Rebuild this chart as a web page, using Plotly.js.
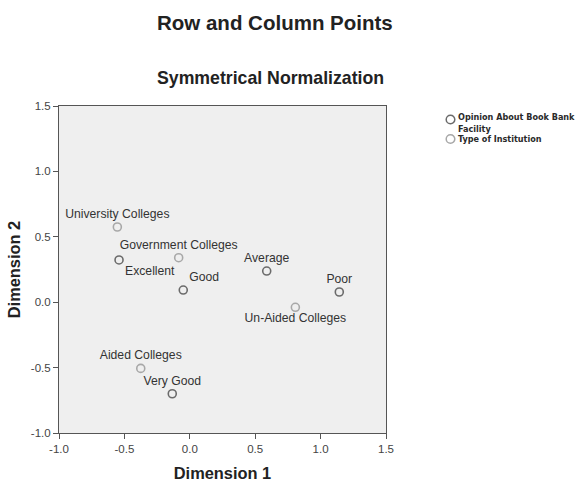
<!DOCTYPE html>
<html><head><meta charset="utf-8">
<script src="https://cdn.plot.ly/plotly-3.0.1.min.js"></script>
<style>body{margin:0;background:#fff}#chart{width:579px;height:482px}</style>
</head><body><div id="chart"></div>
<script>
const opinionLabels = ["Excellent","Very Good","Good","Average","Poor"];
const opinionDim1 = [-0.541, -0.134, -0.050, 0.588, 1.143];
const opinionDim2 = [0.323, -0.700, 0.093, 0.238, 0.078];
const opinionPos = ["bottom right","top center","top right","top center","top center"];

const typeLabels = ["University Colleges","Government Colleges","Aided Colleges","Un-Aided Colleges"];
const typeDim1 = [-0.554, -0.085, -0.375, 0.807];
const typeDim2 = [0.575, 0.340, -0.506, -0.039];
const typePos = ["top center","top center","top center","bottom center"];

const tickVals = [-1.0,-0.5,0.0,0.5,1.0,1.5];
const tickText = ["-1.0","-0.5","0.0","0.5","1.0","1.5"];

const legendNames = ["Opinion About Book Bank<br>Facility", "Type of Institution"];
const colOpinion = "#6b6b6b", colType = "#a8a8a8";

const font = "Liberation Sans, Arial, sans-serif";
const W = 579, H = 482, ML = 59, MR = 193, MT = 106, MB = 49;
const PW = W - ML - MR, PH = H - MT - MB;
const px = v => (v - ML) / PW;   // pixel x -> paper
const py = v => 1 - (v - MT) / PH; // pixel y -> paper

const data = [
  {x: opinionDim1, y: opinionDim2, text: opinionLabels, textposition: opinionPos,
   mode: "markers+text", type: "scatter", name: "Opinion About Book Bank Facility",
   marker: {symbol: "circle-open", size: 8, color: colOpinion, line: {width: 1.6, color: colOpinion}},
   textfont: {family: font, size: 12.2, color: "#333"}, cliponaxis: false, showlegend: false},
  {x: typeDim1, y: typeDim2, text: typeLabels, textposition: typePos,
   mode: "markers+text", type: "scatter", name: "Type of Institution",
   marker: {symbol: "circle-open", size: 8, color: colType, line: {width: 1.6, color: colType}},
   textfont: {family: font, size: 12.2, color: "#333"}, cliponaxis: false, showlegend: false}
];

const legFont = {family: "DejaVu Sans Condensed, DejaVu Sans", size: 9, color: "#2a2a2a", weight: "bold"};
const annotations = [
  {text: "<b>Row and Column Points</b>", xref: "paper", yref: "paper", x: px(275), y: py(22),
   showarrow: false, font: {family: font, size: 20.5, color: "#222"}, xanchor: "center", yanchor: "middle"},
  {text: "<b>Symmetrical Normalization</b>", xref: "paper", yref: "paper", x: px(270.5), y: py(78),
   showarrow: false, font: {family: font, size: 17.7, color: "#222"}, xanchor: "center", yanchor: "middle"},
  {text: legendNames[0], xref: "paper", yref: "paper", x: px(457), y: py(111), showarrow: false,
   xanchor: "left", yanchor: "top", align: "left", font: legFont, borderpad: 0},
  {text: legendNames[1], xref: "paper", yref: "paper", x: px(457), y: py(139), showarrow: false,
   xanchor: "left", yanchor: "middle", align: "left", font: legFont, borderpad: 0}
];
const legendCircle = (cy, col) => ({type: "circle", xref: "paper", yref: "paper", xsizemode: "pixel", ysizemode: "pixel",
  xanchor: px(450.5), yanchor: py(cy), x0: -4.3, x1: 4.3, y0: -4.3, y1: 4.3, line: {color: col, width: 1.5}});

const layout = {
  width: W, height: H,
  margin: {l: ML, r: MR, t: MT, b: MB, autoexpand: false},
  paper_bgcolor: "#fff", plot_bgcolor: "#efefef",
  font: {family: font, color: "#333"},
  showlegend: false,
  xaxis: {range: [-1, 1.5], tickvals: tickVals, ticktext: tickText, showgrid: false, zeroline: false,
    showline: true, linecolor: "#555", linewidth: 1, mirror: true, ticks: "outside", ticklen: 5, tickcolor: "#555",
    tickfont: {family: font, size: 11.5, color: "#444"},
    title: {text: "<b>Dimension 1</b>", font: {family: font, size: 16.4, color: "#222"}, standoff: 14}},
  yaxis: {range: [-1, 1.5], tickvals: tickVals, ticktext: tickText, showgrid: false, zeroline: false,
    showline: true, linecolor: "#555", linewidth: 1, mirror: true, ticks: "outside", ticklen: 5, tickcolor: "#555",
    tickfont: {family: font, size: 11.5, color: "#444"},
    title: {text: "<b>Dimension 2</b>", font: {family: font, size: 16.4, color: "#222"}, standoff: 6}},
  annotations: annotations,
  shapes: [legendCircle(119.5, colOpinion), legendCircle(139, colType)]
};
Plotly.newPlot("chart", data, layout, {displayModeBar: false});
</script></body></html>
